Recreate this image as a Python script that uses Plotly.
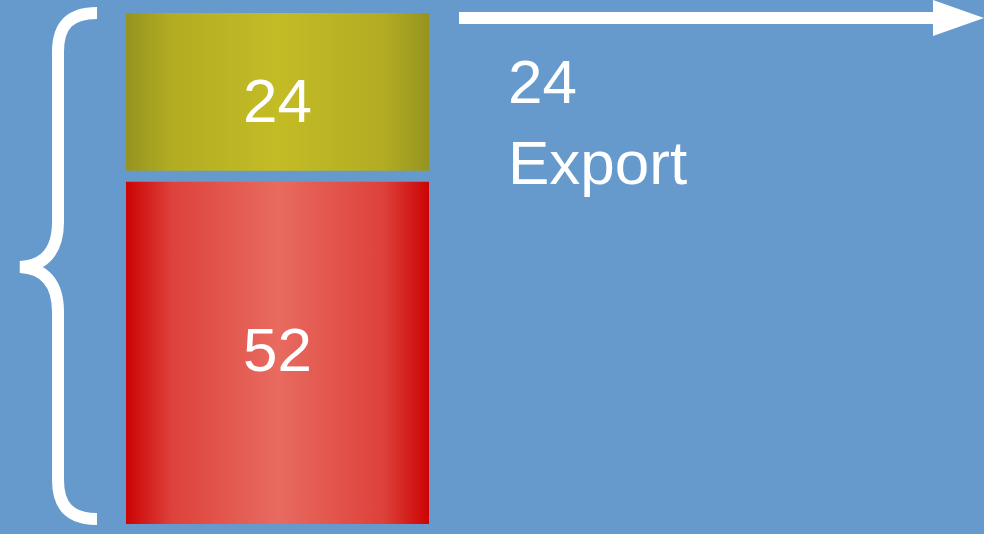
import plotly.graph_objects as go

# data
segment_values = [52, 24]          # bottom -> top
segment_names = ["Other", "Export"]
callout_segment = 1                # segment described on the right

# colours: edge / centre of each horizontal gradient
edge_colors = ["#CC0303", "#969420"]
mid_colors = ["#E86B60", "#C4BC25"]
BG = "#669ACC"

W, H = 984, 534
PX_PER_UNIT = 6.58
BASE_PX = 10                      # pixels below the baseline
GAP = 11 / PX_PER_UNIT            # gap between stacked segments (data units)
BAR_X0, BAR_X1 = 126, 429
LABEL_SHIFT = [3, -9]             # pixel nudge of the value labels

y_min = -BASE_PX / PX_PER_UNIT
y_max = y_min + H / PX_PER_UNIT
FONT = dict(family="Liberation Sans, Arial", size=62, color="white")


def py(p):
    # pixel row -> paper y
    return 1 - p / H


def blend(c1, c2, t):
    a = [int(c1[i:i + 2], 16) for i in (1, 3, 5)]
    b = [int(c2[i:i + 2], 16) for i in (1, 3, 5)]
    return "rgb(%d,%d,%d)" % tuple(round(a[k] + (b[k] - a[k]) * t) for k in range(3))


fig = go.Figure()

bottom = 0
for i, v in enumerate(segment_values):
    y0, y1 = bottom, bottom + v
    e, m = edge_colors[i], mid_colors[i]
    scale = [[0, e], [0.15, blend(e, m, 0.6)], [0.5, m], [0.85, blend(e, m, 0.6)], [1, e]]
    fig.add_trace(go.Scatter(
        x=[BAR_X0, BAR_X1, BAR_X1, BAR_X0, BAR_X0],
        y=[y0, y0, y1, y1, y0],
        mode="lines", fill="toself", line=dict(width=0),
        fillgradient=dict(type="horizontal", colorscale=scale, start=BAR_X0, stop=BAR_X1),
        name=segment_names[i], hoverinfo="skip", showlegend=False,
    ))
    fig.add_annotation(
        x=(BAR_X0 + BAR_X1) / 2, y=(y0 + y1) / 2, text=str(v),
        showarrow=False, yshift=LABEL_SHIFT[i], font=FONT,
    )
    bottom = y1 + GAP

# callout text
fig.add_annotation(
    x=506, y=py(45), xref="x", yref="paper", xanchor="left", yanchor="top",
    text=f"{segment_values[callout_segment]}<br>{segment_names[callout_segment]}",
    showarrow=False, align="left", font=FONT,
)

# brace on the left
brace = (
    f"M 97 {py(13)} "
    f"C 70 {py(13)}, 58 {py(25)}, 58 {py(52)} "
    f"L 58 {py(222)} "
    f"C 58 {py(250)}, 45 {py(266)}, 20 {py(267)} "
    f"C 45 {py(268)}, 58 {py(284)}, 58 {py(312)} "
    f"L 58 {py(480)} "
    f"C 58 {py(506)}, 70 {py(519)}, 97 {py(519)}"
)
fig.add_shape(type="path", path=brace, xref="x", yref="paper",
              line=dict(color="white", width=12))

# arrow at the top
fig.add_shape(type="line", x0=459, x1=936, y0=py(18), y1=py(18), xref="x", yref="paper",
              line=dict(color="white", width=12))
fig.add_shape(type="path", xref="x", yref="paper",
              path=f"M 933 {py(0)} L 984 {py(18)} L 933 {py(36)} Z",
              fillcolor="white", line=dict(width=0))

fig.update_layout(
    width=W, height=H,
    margin=dict(l=0, r=0, t=0, b=0),
    paper_bgcolor=BG, plot_bgcolor=BG,
    xaxis=dict(range=[0, W], visible=False, fixedrange=True),
    yaxis=dict(range=[y_min, y_max], visible=False, fixedrange=True),
    showlegend=False,
)

fig.write_html("out.html", config={"displayModeBar": False},
               post_script="document.body.style.margin='0';")
